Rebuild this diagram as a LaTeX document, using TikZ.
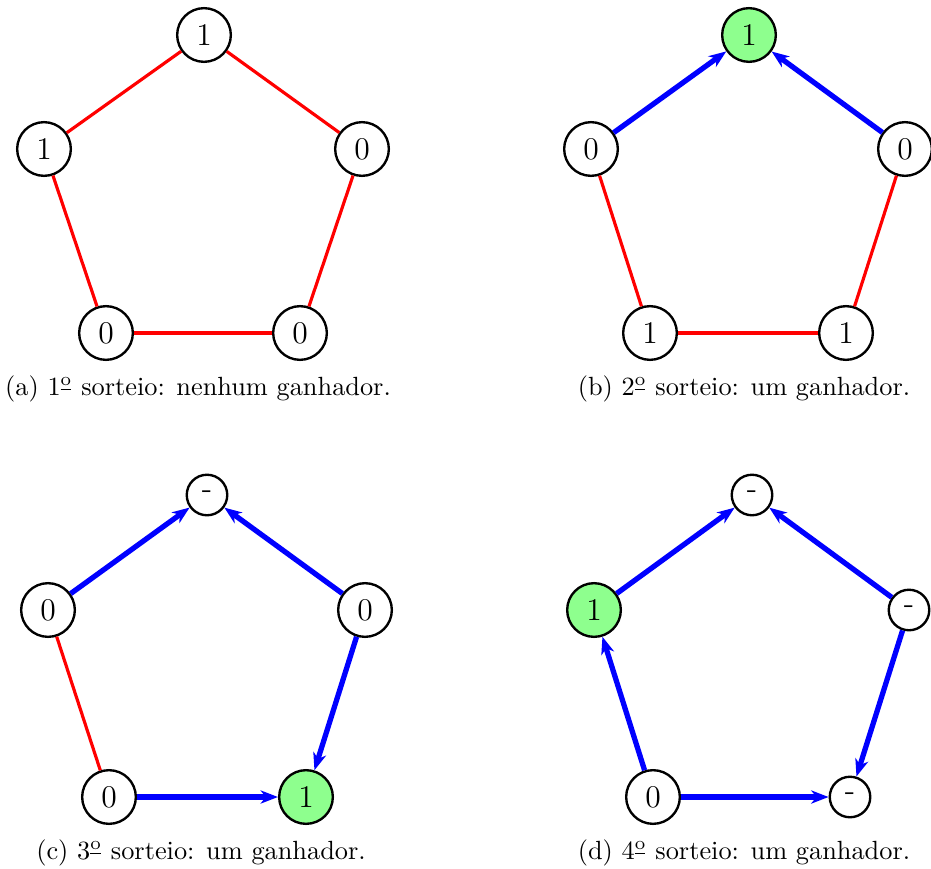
\documentclass[tikz,border=0pt]{standalone}
\usetikzlibrary{arrows.meta}
\definecolor{wingreen}{RGB}{142,255,142}
\newcommand{\ordm}{\textsuperscript{\underline{o}}}
\tikzset{
  vtx/.style={circle,draw=black,line width=0.9pt,minimum size=20.4pt,inner sep=0pt,font=\large,fill=white},
  smallvtx/.style={circle,draw=black,line width=0.9pt,minimum size=15.4pt,inner sep=0pt,font=\large,fill=white},
  win/.style={fill=wingreen},
  redge/.style={draw=red,line width=1.2pt},
  bedge/.style={draw=blue,line width=2pt,-{Stealth[length=6.6pt,width=5pt,inset=2pt]}},
  captext/.style={anchor=base,font=\normalsize,inner sep=0pt}
}
\begin{document}
\begin{tikzpicture}[x=0.38pt,y=-0.38pt]
\useasboundingbox (0,0) rectangle (931,868);
% (a)
\node[vtx] (aT) at (204,35) {1};
\node[vtx] (aL) at (44,149) {1};
\node[vtx] (aR) at (362,149) {0};
\node[vtx] (aBL) at (106,333) {0};
\node[vtx] (aBR) at (300,333) {0};
\draw[redge] (aT) -- (aL);
\draw[redge] (aT) -- (aR);
\draw[redge] (aL) -- (aBL);
\draw[redge] (aR) -- (aBR);
\draw[redge] (aBL) -- (aBR);
\node[captext] (capa) at (198,395) {(a) 1\ordm{} sorteio: nenhum ganhador.};
% (b)
\node[vtx,win] (bT) at (749,35) {1};
\node[vtx] (bL) at (591,149) {0};
\node[vtx] (bR) at (905,149) {0};
\node[vtx] (bBL) at (650,333) {1};
\node[vtx] (bBR) at (846,333) {1};
\draw[bedge] (bL) -- (bT);
\draw[bedge] (bR) -- (bT);
\draw[redge] (bL) -- (bBL);
\draw[redge] (bR) -- (bBR);
\draw[redge] (bBL) -- (bBR);
\node[captext] (capb) at (744,395) {(b) 2\ordm{} sorteio: um ganhador.};
% (c)
\node[smallvtx] (cT) at (207,495) {-};
\node[vtx] (cL) at (48,610) {0};
\node[vtx] (cR) at (365,610) {0};
\node[vtx] (cBL) at (109,797) {0};
\node[vtx,win] (cBR) at (306,797) {1};
\draw[bedge] (cL) -- (cT);
\draw[bedge] (cR) -- (cT);
\draw[redge] (cL) -- (cBL);
\draw[bedge] (cR) -- (cBR);
\draw[bedge] (cBL) -- (cBR);
\node[captext] (capc) at (201,859) {(c) 3\ordm{} sorteio: um ganhador.};
% (d)
\node[smallvtx] (dT) at (752,495) {-};
\node[vtx,win] (dL) at (594,610) {1};
\node[smallvtx] (dR) at (909,610) {-};
\node[vtx] (dBL) at (653,797) {0};
\node[smallvtx] (dBR) at (850,797) {-};
\draw[bedge] (dL) -- (dT);
\draw[bedge] (dR) -- (dT);
\draw[bedge] (dBL) -- (dL);
\draw[bedge] (dR) -- (dBR);
\draw[bedge] (dBL) -- (dBR);
\node[captext] (capd) at (744,859) {(d) 4\ordm{} sorteio: um ganhador.};
\end{tikzpicture}
\end{document}
